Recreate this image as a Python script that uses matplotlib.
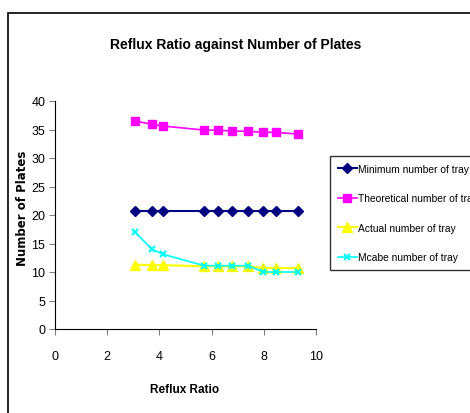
import matplotlib
matplotlib.use("Agg")
import matplotlib.pyplot as plt
from matplotlib.patches import Rectangle
from matplotlib import font_manager

# data
reflux = [3.07, 3.71, 4.15, 5.72, 6.26, 6.80, 7.41, 7.98, 8.45, 9.30]
minimum = [20.7, 20.7, 20.7, 20.7, 20.7, 20.7, 20.7, 20.7, 20.7, 20.7]
theoretical = [36.5, 35.9, 35.6, 34.9, 34.9, 34.7, 34.7, 34.5, 34.5, 34.2]
actual = [11.3, 11.2, 11.2, 11.0, 11.0, 11.0, 11.0, 10.7, 10.7, 10.7]
mcabe = [17.0, 14.0, 13.1, 11.1, 11.1, 11.1, 11.1, 10.0, 10.0, 10.0]

names = ['Minimum number of tray', 'Theoretical number of tray',
         'Actual number of tray', 'Mcabe number of tray']

avail = {f.name for f in font_manager.fontManager.ttflist}
narrow = 'Liberation Sans Narrow' if 'Liberation Sans Narrow' in avail else 'Liberation Sans'
plt.rcParams['font.family'] = [narrow, 'DejaVu Sans']

W, H = 470, 414
fig = plt.figure(figsize=(W / 100, H / 100), dpi=100)
fig.patches.append(Rectangle((8 / W, -0.1), 1.2, 1 - 14 / H + 0.1, transform=fig.transFigure,
                             fill=False, edgecolor='black', lw=1.2))

ax = fig.add_axes([55 / W, 1 - 330 / H, (316 - 55) / W, (330 - 102) / H])

ax.plot(reflux, minimum, color='#000080', marker='D', ms=5, lw=1.5, label=names[0])
ax.plot(reflux, theoretical, color='#FF00FF', marker='s', ms=6, lw=1.2, label=names[1])
ax.plot(reflux, actual, color='#FFFF00', marker='^', ms=7, lw=1.5, label=names[2])
ax.plot(reflux, mcabe, color='#00FFFF', marker='x', ms=5, mew=1.5, lw=1.2, label=names[3])

ax.set_xlim(0, 10)
ax.set_ylim(0, 40)
ax.set_xticks(range(0, 11, 2))
ax.set_yticks(range(0, 41, 5))
ax.spines['top'].set_visible(False)
ax.spines['right'].set_visible(False)
ax.tick_params(labelsize=9, length=4, color='#808080', pad=11)
ax.tick_params(axis='y', pad=3)

fig.text(236 / W, 1 - 45 / H, 'Reflux Ratio against Number of Plates',
         ha='center', va='center', fontsize=10, fontweight='bold')
fig.text(185 / W, 1 - 390 / H, 'Reflux Ratio', ha='center', va='center',
         fontsize=8.5, fontweight='bold')
fig.text(23 / W, 1 - 208 / H, 'Number of Plates', ha='center', va='center',
         rotation=90, fontsize=8.5, fontweight='bold', family='DejaVu Sans')

leg = fig.legend(loc='upper left', bbox_to_anchor=(330 / W, 1 - 157 / H),
                 bbox_transform=fig.transFigure, fontsize=7.4, frameon=True,
                 fancybox=False, edgecolor='black', borderpad=0.75,
                 labelspacing=1.9, handlelength=1.9, handletextpad=0.1,
                 borderaxespad=0)
leg.get_frame().set_linewidth(1.0)

fig.savefig('out.png', dpi=100)
